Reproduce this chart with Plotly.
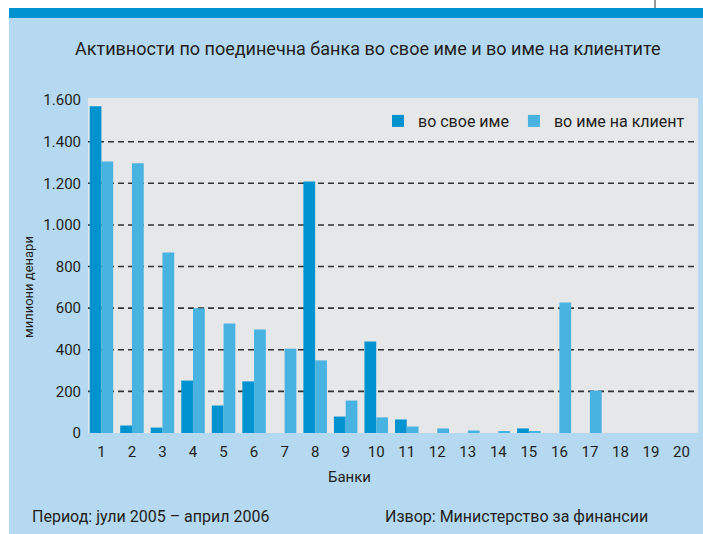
import plotly.graph_objects as go

# Bank numbers and values (million denars)
banks = list(range(1, 21))
own_name = [1570, 36, 26, 252, 132, 248, 0, 1209, 79, 440, 65, 0, 0, 0, 22, 0, 0, 0, 0, 0]
client_name = [1305, 1296, 868, 600, 526, 497, 405, 349, 156, 75, 31, 22, 12, 7, 7, 627, 204, 0, 0, 0]

y_ticks = [0, 200, 400, 600, 800, 1000, 1200, 1400, 1600]
y_tick_text = ["0", "200", "400", "600", "800", "1.000", "1.200", "1.400", "1.600"]
grid_levels = [200, 400, 600, 800, 1000, 1200, 1400]

series_names = ["во свое име", "во име на клиент"]
title_text = "Активности по поединечна банка во свое име и во име на клиентите"
x_title = "Банки"
y_title = "милиони денари"
period_text = "Период: јули 2005 – април 2006"
source_text = "Извор: Министерство за финансии"

W, H = 703, 534
ML, MR, MT, MB = 88, 5, 98, 101
PW, PH = W - ML - MR, H - MT - MB

DARK = "#0093d0"
LIGHT = "#48b2e0"
PANEL = "#b4d9f0"
PLOT_BG = "#e6e7e9"
TEXT = "#231f20"
FONT = "Liberation Sans Narrow, Arial Narrow, Roboto, sans-serif"


def px_x(p):
    return (p - ML) / PW


def px_y(p):
    return 1 - (p - MT) / PH


fig = go.Figure()
fig.add_trace(go.Bar(x=banks, y=own_name, name=series_names[0], marker_color=DARK,
                     marker_line_width=0))
fig.add_trace(go.Bar(x=banks, y=client_name, name=series_names[1], marker_color=LIGHT,
                     marker_line_width=0))

shapes = []
# white margin strips and the blue header band
shapes.append(dict(type="rect", xref="paper", yref="paper", x0=px_x(0), x1=px_x(9),
                   y0=px_y(H), y1=px_y(0), fillcolor="white", line_width=0, layer="below"))
shapes.append(dict(type="rect", xref="paper", yref="paper", x0=px_x(0), x1=px_x(W),
                   y0=px_y(8), y1=px_y(0), fillcolor="white", line_width=0, layer="below"))
shapes.append(dict(type="rect", xref="paper", yref="paper", x0=px_x(9), x1=px_x(W),
                   y0=px_y(18), y1=px_y(8), fillcolor=DARK, line_width=0, layer="below"))
shapes.append(dict(type="line", xref="paper", yref="paper", x0=px_x(655), x1=px_x(655),
                   y0=px_y(8), y1=px_y(0), line=dict(color="#333333", width=1)))
# dashed horizontal gridlines
for g in grid_levels:
    shapes.append(dict(type="line", xref="x domain", yref="y", x0=0, x1=1, y0=g, y1=g,
                       line=dict(color="#333333", width=1.6, dash="6px,4px"), layer="below"))

annotations = [
    dict(text=title_text, xref="paper", yref="paper", x=px_x(367), y=px_y(48),
         showarrow=False, xanchor="center", yanchor="middle",
         font=dict(size=18, color=TEXT, family=FONT)),
    dict(text=x_title, xref="paper", yref="paper", x=px_x(349), y=px_y(477),
         showarrow=False, xanchor="center", yanchor="middle",
         font=dict(size=15, color=TEXT, family=FONT)),
    dict(text=y_title, xref="paper", yref="paper", x=px_x(28), y=px_y(287),
         showarrow=False, xanchor="center", yanchor="middle", textangle=-90,
         font=dict(size=13, color=TEXT, family=FONT)),
    dict(text=period_text, xref="paper", yref="paper", x=px_x(30), y=px_y(516),
         showarrow=False, xanchor="left", yanchor="middle",
         font=dict(size=16, color=TEXT, family=FONT)),
    dict(text=source_text, xref="paper", yref="paper", x=px_x(383), y=px_y(516),
         showarrow=False, xanchor="left", yanchor="middle",
         font=dict(size=16, color=TEXT, family=FONT)),
]

fig.update_layout(
    width=W, height=H,
    margin=dict(l=ML, r=MR, t=MT, b=MB, pad=0),
    paper_bgcolor=PANEL,
    plot_bgcolor=PLOT_BG,
    barmode="group",
    bargap=0.23,
    bargroupgap=0,
    showlegend=True,
    legend=dict(orientation="h", x=px_x(690), xanchor="right", y=px_y(104), yanchor="top",
                bgcolor="rgba(0,0,0,0)", font=dict(size=16, color=TEXT, family=FONT),
                itemsizing="constant", traceorder="normal"),
    shapes=shapes,
    annotations=annotations,
    font=dict(family=FONT, color=TEXT),
)

fig.update_xaxes(range=[0.56, 20.54], tickmode="array", tickvals=banks,
                 ticktext=[str(b) for b in banks], showgrid=False, zeroline=False,
                 showline=False, ticks="", ticklabelstandoff=8,
                 tickfont=dict(size=15, color=TEXT, family=FONT), fixedrange=True)
fig.update_yaxes(range=[0, 1610], tickmode="array", tickvals=y_ticks, ticktext=y_tick_text,
                 showgrid=False, zeroline=False, showline=False, ticks="", ticklabelstandoff=6,
                 tickfont=dict(size=15, color=TEXT, family=FONT), fixedrange=True)

fig.write_html("out.html")
